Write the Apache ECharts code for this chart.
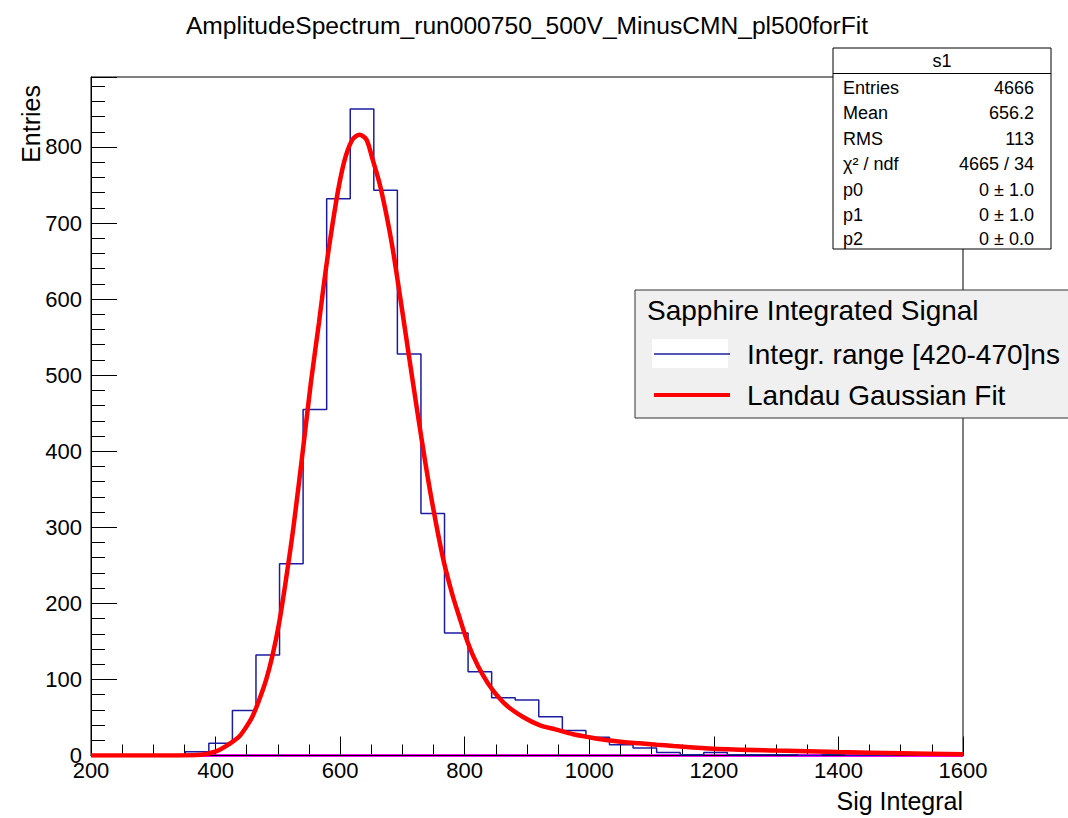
<!DOCTYPE html>
<html>
<head>
<meta charset="utf-8">
<script src="https://cdn.jsdelivr.net/npm/echarts@6/dist/echarts.min.js"></script>
<style>html,body{margin:0;padding:0;background:#fff}#c{width:1068px;height:818px}</style>
</head>
<body>
<div id="c"></div>
<script>
// ---------- data ----------
const titleText = 'AmplitudeSpectrum_run000750_500V_MinusCMN_pl500forFit';
const xTitle = 'Sig Integral';
const yTitle = 'Entries';
const binLow = 200;
const binHigh = 1600;
const nBins = 37;
const binCounts = [0, 0, 0, 1, 5, 16, 59, 132, 252, 455, 732, 850, 743, 528, 318, 161, 110, 76, 73, 51,
  33, 24, 14, 10, 4, 1, 4, 1, 1, 1, 0, 1, 0, 0, 1, 0, 0];
const fitX = [200, 340, 370, 385, 395, 405, 416, 427, 438, 448, 459, 470, 481, 491, 502, 513, 525, 540, 553, 566,
  577, 588, 599, 609, 620, 631, 642, 652, 663, 674, 684, 695, 706, 716, 730, 745, 765, 780, 791, 802,
  813, 829, 845, 867, 893, 920, 947, 974, 1000, 1027, 1054, 1081, 1108, 1135, 1200, 1300, 1400, 1500, 1600];
const fitY = [0, 0, 0.5, 2, 4, 7, 12, 18, 25, 36, 51, 73, 99, 130, 174, 231, 300, 400, 490, 569,
  639, 700, 753, 788, 810, 816, 810, 784, 753, 712, 668, 610, 550, 495, 420, 345, 260, 212, 183, 155,
  132, 106, 86, 66, 51, 40, 34, 28, 24, 20.4, 17.8, 16, 14.2, 12.5, 9, 6.5, 4.5, 3, 1.5];
const xTickLabels = [200, 400, 600, 800, 1000, 1200, 1400, 1600];
const yTickLabels = [0, 100, 200, 300, 400, 500, 600, 700, 800];
const statsTitle = 's1';
const statsLabels = ['Entries', 'Mean', 'RMS', 'χ² / ndf', 'p0', 'p1', 'p2'];
const statsValues = ['4666', '656.2', '113', '4665 / 34', '0 ± 1.0', '0 ± 1.0', '0 ± 0.0'];
const legendTitle = 'Sapphire Integrated Signal';
const histName = 'Integr. range [420-470]ns';
const fitName = 'Landau Gaussian Fit';

// ---------- chart ----------
const FONT = "'Liberation Sans', Arial, Helvetica, sans-serif";
const chart = echarts.init(document.getElementById('c'), null, {renderer: 'svg', width: 1068, height: 818});

const binWidth = (binHigh - binLow) / nBins;
const histData = binCounts.map((c, i) => [binLow + i * binWidth, c]);
histData.push([binHigh, binCounts[binCounts.length - 1]]);
const fitData = fitX.map((x, i) => [x, fitY[i]]);
const zeroLine = [[binLow, 0], [binHigh, 0]];

const statsRowY = [39.5, 65, 91, 116, 141.5, 166.5, 191];
const statsChildren = [
  {type: 'rect', shape: {x: 0, y: 0, width: 218, height: 201}, style: {fill: '#fff', stroke: '#000', lineWidth: 1}, z: 10, z2: 0},
  {type: 'line', shape: {x1: 0, y1: 25.5, x2: 218, y2: 25.5}, style: {stroke: '#000', lineWidth: 1}, z: 10, z2: 1},
  {type: 'text', x: 109, y: 13, style: {text: statsTitle, font: '18px ' + FONT, fill: '#000', align: 'center', verticalAlign: 'middle'}, z: 10, z2: 2}
];
statsLabels.forEach((lab, i) => {
  statsChildren.push({type: 'text', x: 10, y: statsRowY[i], style: {text: lab, font: '18px ' + FONT, fill: '#000', align: 'left', verticalAlign: 'middle'}, z: 10, z2: 2});
  statsChildren.push({type: 'text', x: 201, y: statsRowY[i], style: {text: statsValues[i], font: '18px ' + FONT, fill: '#000', align: 'right', verticalAlign: 'middle'}, z: 10, z2: 2});
});

const option = {
  animation: false,
  backgroundColor: '#fff',
  grid: {left: 91, right: 105, top: 77, bottom: 62.5, show: true, borderColor: '#000', borderWidth: 1, backgroundColor: 'transparent'},
  xAxis: {
    type: 'value', min: xTickLabels[0], max: xTickLabels[xTickLabels.length - 1], interval: 200, z: 2,
    axisLine: {show: true, onZero: false, lineStyle: {color: '#000', width: 1}},
    axisTick: {show: true, inside: true, length: 19, lineStyle: {color: '#000', width: 1}},
    minorTick: {show: true, splitNumber: 4, length: 11, lineStyle: {color: '#000', width: 1}},
    axisLabel: {color: '#000', fontSize: 22, fontFamily: FONT, margin: 4, showMinLabel: true, showMaxLabel: true,
      formatter: v => String(v)},
    splitLine: {show: false}
  },
  yAxis: {
    type: 'value', min: yTickLabels[0], max: 892, interval: 100,
    axisLine: {show: true, lineStyle: {color: '#000', width: 1}},
    axisTick: {show: true, inside: true, length: 26, lineStyle: {color: '#000', width: 1}},
    minorTick: {show: true, splitNumber: 5, length: 14, lineStyle: {color: '#000', width: 1}},
    axisLabel: {color: '#000', fontSize: 22, fontFamily: FONT, margin: 9, showMaxLabel: false,
      formatter: v => (yTickLabels.indexOf(v) >= 0 ? String(v) : '')},
    splitLine: {show: false}
  },
  legend: {
    show: true, orient: 'vertical', left: 652, top: 339, padding: 0,
    data: [
      {name: histName, lineStyle: {color: '#1c1ca3', width: 1.5}},
      {name: fitName, lineStyle: {color: '#ff0000', width: 4}}
    ],
    itemWidth: 76, itemHeight: 14, itemGap: 11, selectedMode: false, z: 20,
    itemStyle: {opacity: 0, borderWidth: 0},
    textStyle: {fontSize: 28, fontFamily: FONT, color: '#000', lineHeight: 30, padding: [0, 0, 0, 12]}
  },
  series: [
    {name: 'zero', type: 'line', data: zeroLine, symbol: 'none', silent: true, z: 1,
      lineStyle: {color: '#ff00ff', width: 3}, itemStyle: {color: '#ff00ff'}},
    {name: histName, type: 'line', step: 'end', data: histData, symbol: 'none', z: 3,
      lineStyle: {color: '#1c1ca3', width: 1.5}, itemStyle: {color: '#1c1ca3'}},
    {name: fitName, type: 'line', smooth: 0.3, data: fitData, symbol: 'none', z: 4,
      lineStyle: {color: '#ff0000', width: 4.5}, itemStyle: {color: '#ff0000'}}
  ],
  graphic: [
    {type: 'text', x: 527, y: 25, style: {text: titleText, font: '24.6px ' + FONT, fill: '#000', align: 'center', verticalAlign: 'middle'}, z: 10},
    {type: 'text', x: 31, y: 85, rotation: Math.PI / 2, style: {text: yTitle, font: '25px ' + FONT, fill: '#000', align: 'right', verticalAlign: 'middle'}, z: 10},
    {type: 'text', x: 963, y: 801, style: {text: xTitle, font: '25px ' + FONT, fill: '#000', align: 'right', verticalAlign: 'middle'}, z: 10},
    {type: 'group', x: 833, y: 48, children: statsChildren},
    {type: 'rect', shape: {x: 635, y: 290, width: 445, height: 128}, style: {fill: '#f0f0f0', stroke: '#333', lineWidth: 1}, z: 10, z2: 0},
    {type: 'rect', shape: {x: 652, y: 339, width: 76, height: 29}, style: {fill: '#fff'}, z: 10, z2: 1},
    {type: 'text', x: 647, y: 310, style: {text: legendTitle, font: '28px ' + FONT, fill: '#000', align: 'left', verticalAlign: 'middle'}, z: 10, z2: 2}
  ]
};
chart.setOption(option);
</script>
</body>
</html>
